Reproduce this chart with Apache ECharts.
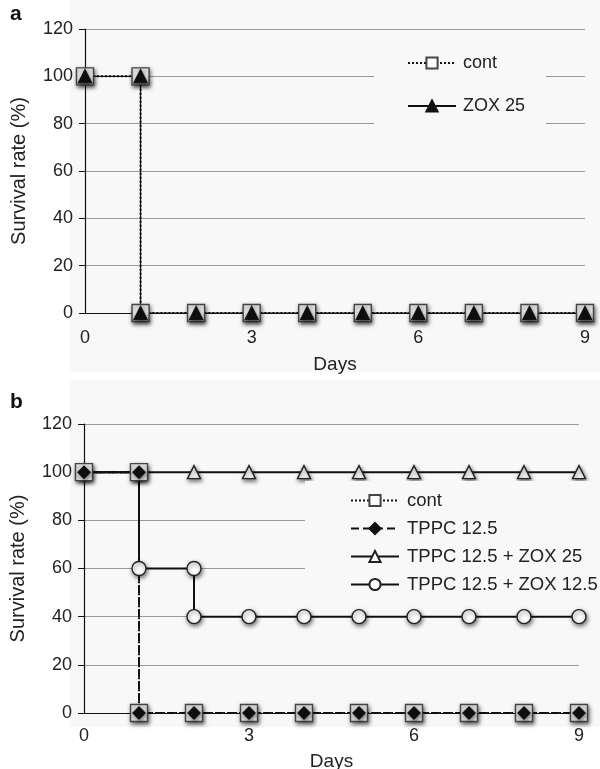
<!DOCTYPE html>
<html>
<head>
<meta charset="utf-8">
<script src="https://cdn.jsdelivr.net/npm/echarts@6/dist/echarts.min.js"></script>
<style>
    html, body {margin: 0; padding: 0; background: #fff;}
    #chart {width: 600px; height: 769px;}
</style>
</head>
<body>
<div id="chart"></div>
<script>
// panel a
var daysA = [0, 1, 1, 2, 3, 4, 5, 6, 7, 8, 9];
var contA = [100, 100, 0, 0, 0, 0, 0, 0, 0, 0, 0];
var zox25A = [100, 100, 0, 0, 0, 0, 0, 0, 0, 0, 0];

// panel b
var daysB = [0, 1, 1, 2, 3, 4, 5, 6, 7, 8, 9];
var contB = [100, 100, 0, 0, 0, 0, 0, 0, 0, 0, 0];
var tppcB = [100, 100, 0, 0, 0, 0, 0, 0, 0, 0, 0];
var daysZox25B = [0, 1, 2, 3, 4, 5, 6, 7, 8, 9];
var tppcZox25B = [100, 100, 100, 100, 100, 100, 100, 100, 100, 100];
var daysZox125B = [0, 1, 1, 2, 2, 3, 4, 5, 6, 7, 8, 9];
var tppcZox125B = [100, 100, 60, 60, 40, 40, 40, 40, 40, 40, 40, 40];

var xTicks = [0, 3, 6, 9];
var legendA = ['cont', 'ZOX 25'];
var legendB = ['cont', 'TPPC 12.5', 'TPPC 12.5 + ZOX 25', 'TPPC 12.5 + ZOX 12.5'];

function pares(xs, ys) {
    var out = [];
    for (var i = 0; i < xs.length; i++) {
        out.push([xs[i], ys[i]]);
    }
    return out;
}

var fuente = 'Liberation Sans, Arial, sans-serif';
var fondo = '#f8f8f8';
var sombra = {shadowBlur: 4, shadowColor: 'rgba(0,0,0,0.55)', shadowOffsetX: 1, shadowOffsetY: 2};

function ejeX(idx, margen, gap) {
    return {
        type: 'value', gridIndex: idx, min: 0, max: 9, interval: 3,
        name: 'Days', nameLocation: 'middle', nameGap: gap,
        nameTextStyle: {fontFamily: fuente, fontSize: 19, color: '#222'},
        axisLine: {show: true, onZero: false, lineStyle: {color: '#111', width: 1.2}},
        axisTick: {show: false},
        splitLine: {show: false},
        axisLabel: {
            fontFamily: fuente, fontSize: 18, color: '#222', margin: margen,
            formatter: function (v) { return xTicks.indexOf(v) >= 0 ? String(v) : ''; }
        }
    };
}

function ejeY(idx) {
    return {
        type: 'value', gridIndex: idx, min: 0, max: 120, interval: 20,
        name: 'Survival rate (%)', nameLocation: 'middle', nameGap: 56,
        nameTextStyle: {fontFamily: fuente, fontSize: 20, color: '#222'},
        axisLine: {show: true, lineStyle: {color: '#111', width: 1.2}},
        axisTick: {show: true, length: 6, lineStyle: {color: '#111'}},
        splitLine: {show: true, lineStyle: {color: '#9a9a9a', width: 1.2}},
        axisLabel: {fontFamily: fuente, fontSize: 18, color: '#222', margin: 12}
    };
}

function serie(nombre, datos, xi, simbolo, tam, relleno, borde, tipo, ancho) {
    return {
        name: nombre, type: 'line', xAxisIndex: xi, yAxisIndex: xi,
        data: datos, symbol: simbolo, symbolSize: tam, showAllSymbol: true,
        lineStyle: {color: '#111', width: ancho, type: tipo},
        itemStyle: Object.assign({color: relleno, borderColor: borde, borderWidth: 1.4}, sombra),
        emphasis: {disabled: true},
        animation: false
    };
}

var chart = echarts.init(document.getElementById('chart'));
chart.setOption({
    backgroundColor: '#fff',
    animation: false,
    graphic: [
        {type: 'rect', shape: {x: 70, y: 0, width: 530, height: 372}, style: {fill: fondo}, z: -10},
        {type: 'rect', shape: {x: 70, y: 380, width: 530, height: 347}, style: {fill: fondo}, z: -10},
        {type: 'text', left: 10, top: 4, style: {text: 'a', font: 'bold 21px ' + fuente, fill: '#111'}},
        {type: 'text', left: 10, top: 392, style: {text: 'b', font: 'bold 21px ' + fuente, fill: '#111'}}
    ],
    grid: [
        {left: 85, right: 15, top: 29, height: 284, outerBoundsMode: 'none'},
        {left: 84, right: 21, top: 424, height: 289, outerBoundsMode: 'none'}
    ],
    xAxis: [ejeX(0, 16, 42), ejeX(1, 14, 39)],
    yAxis: [ejeY(0), ejeY(1)],
    legend: [
        {
            data: legendA, orient: 'vertical', left: 374, top: 40,
            backgroundColor: fondo, padding: [14, 21, 15, 33],
            itemWidth: 48, itemHeight: 14, itemGap: 25,
            textStyle: {fontFamily: fuente, fontSize: 18, color: '#222', padding: [0, 0, 0, 2]},
            selectedMode: false
        },
        {
            data: legendB, orient: 'vertical', left: 305, top: 481,
            backgroundColor: fondo, padding: [10, 2, 12, 45],
            itemWidth: 48, itemHeight: 14, itemGap: 9,
            textStyle: {fontFamily: fuente, fontSize: 18.5, color: '#222', padding: [0, 0, 0, 3]},
            selectedMode: false
        }
    ],
    series: [
        serie('cont', pares(daysA, contA), 0, 'rect', 17, '#fbfbfb', '#444', 'dotted', 2),
        serie('ZOX 25', pares(daysA, zox25A), 0, 'triangle', 13, '#111', '#111', 'solid', 1.2),
        serie('TPPC 12.5 + ZOX 25', pares(daysZox25B, tppcZox25B), 1, 'triangle', 13, '#fff', '#222', 'solid', 2),
        serie('TPPC 12.5 + ZOX 12.5', pares(daysZox125B, tppcZox125B), 1, 'circle', 14, '#fff', '#222', 'solid', 2),
        serie('cont', pares(daysB, contB), 1, 'rect', 17, '#fbfbfb', '#444', 'dotted', 2),
        serie('TPPC 12.5', pares(daysB, tppcB), 1, 'diamond', 12, '#111', '#111', 'dashed', 2)
    ]
});
</script>
</body>
</html>
